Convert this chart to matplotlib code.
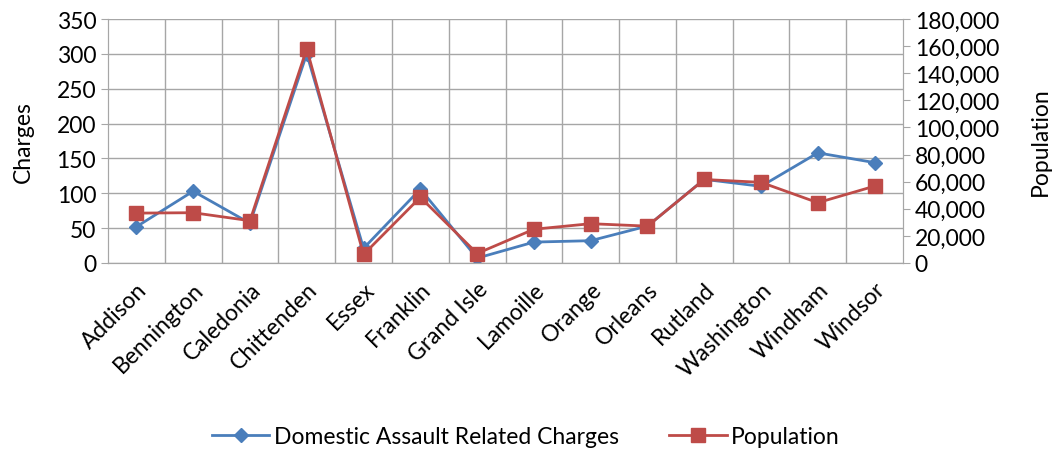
import matplotlib.pyplot as plt
from matplotlib.ticker import FuncFormatter, MultipleLocator
from matplotlib.lines import Line2D

plt.rcParams['font.family'] = ['Lato', 'DejaVu Sans']

counties = ["Addison", "Bennington", "Caledonia", "Chittenden", "Essex", "Franklin",
            "Grand Isle", "Lamoille", "Orange", "Orleans", "Rutland", "Washington",
            "Windham", "Windsor"]
charges = [52, 103, 57, 300, 21, 106, 7, 30, 32, 53, 120, 110, 158, 144]
population = [36800, 37100, 31200, 158000, 6300, 48500, 7000, 24900, 29000,
              27200, 61600, 59500, 44500, 56700]

blue = "#4a7ebb"
red = "#be4b48"
grid_c = "#a6a6a6"
fs = 16.5

fig = plt.figure(figsize=(10.52, 4.52), dpi=100)
ax = fig.add_axes([108 / 1052, 1 - 264 / 452, 795 / 1052, 244 / 452])
ax2 = ax.twinx()

x = list(range(len(counties)))
ax.plot(x, charges, color=blue, lw=2, marker="D", ms=7, zorder=3)
ax2.plot(x, population, color=red, lw=2, marker="s", ms=10, zorder=3)

ax.set_xlim(-0.5, len(counties) - 0.5)
ax.set_ylim(0, 350)
ax2.set_ylim(0, 180000)
ax.yaxis.set_major_locator(MultipleLocator(50))
ax2.yaxis.set_major_locator(MultipleLocator(20000))
ax2.yaxis.set_major_formatter(FuncFormatter(lambda v, p: f"{int(v):,}"))

ax.set_xticks(x)
ax.set_xticklabels(counties, rotation=45, ha="right", rotation_mode="anchor", fontsize=fs)
ax.set_xticks([i + 0.5 for i in x[:-1]], minor=True)
ax.tick_params(axis="x", which="both", length=0, pad=11)
ax.grid(axis="y", color=grid_c, lw=1)
ax.grid(axis="x", which="minor", color=grid_c, lw=1)
ax.set_axisbelow(True)

ax.tick_params(axis="y", labelsize=fs, length=5, color=grid_c)
ax2.tick_params(axis="y", labelsize=fs, length=5, color=grid_c)
ax.set_ylabel("Charges", fontsize=fs, labelpad=16)
ax2.set_ylabel("Population", fontsize=fs, labelpad=22)

for a in (ax, ax2):
    for s in a.spines.values():
        s.set_color(grid_c)
    a.spines["top"].set_visible(False)

handles = [Line2D([], [], color=blue, lw=2, marker="D", ms=7),
           Line2D([], [], color=red, lw=2, marker="s", ms=10)]
fig.legend(handles, ["Domestic Assault Related Charges", "Population"],
           loc="center", bbox_to_anchor=(0.5, 1 - 438 / 452),
           ncol=2, frameon=False, fontsize=fs, handlelength=2.5,
           handletextpad=0.2, columnspacing=2.2)

fig.savefig("out.png", dpi=100)
